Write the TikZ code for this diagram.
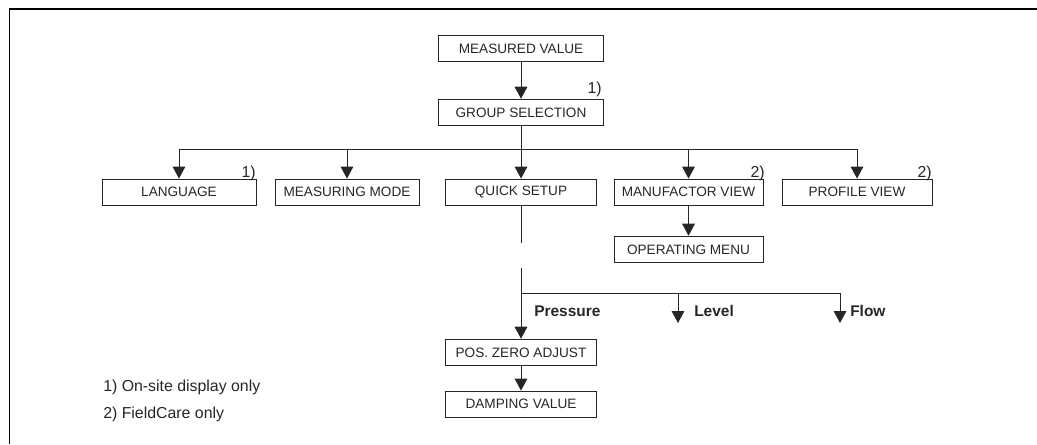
\documentclass[tikz,border=0pt]{standalone}
\usepackage{fontspec}
\setmainfont{Liberation Sans}
\usetikzlibrary{arrows.meta}
\begin{document}
\begin{tikzpicture}[x=0.75pt,y=-0.75pt,
  box/.style={draw=black!85, line width=0.65pt, minimum height=20pt, inner sep=0pt,
    font=\fontsize{10.2}{12}\selectfont, text=black!85},
  arr/.style={draw=black!85, line width=0.75pt, -{Triangle[width=9.5pt,length=9pt]}},
  ln/.style={draw=black!85, line width=0.75pt},
  note/.style={font=\fontsize{11.9}{14}\selectfont, text=black!85, inner sep=0pt},
  lbl/.style={font=\bfseries\fontsize{11.6}{13}\selectfont, text=black!85, inner sep=0pt, anchor=base west}]
\useasboundingbox (0,0) rectangle (1037,444);
\coordinate (fbl) at (9.5,444);
\coordinate (ftl) at (9.5,9);
\coordinate (ftr) at (1037,9);
\draw[line width=1.2pt] (fbl) -- (ftl) -- (ftr);

% boxes
\node[box, minimum width=123.75pt] (mv) at (521,48.5) {MEASURED VALUE};
\node[box, minimum width=123.75pt] (gs) at (521,112.5) {GROUP SELECTION};
\node[box, minimum width=115.5pt, minimum height=19.5pt] (lang) at (179,192) {LANGUAGE};
\node[box, minimum width=108pt, minimum height=19.5pt] (mm) at (347,192) {MEASURING MODE};
\node[box, minimum width=113.25pt, minimum height=19.5pt] (qs) at (521,192) {QUICK SETUP};
\node[box, minimum width=111.75pt, minimum height=19.5pt] (mf) at (688.5,192) {MANUFACTOR VIEW};
\node[box, minimum width=112.5pt, minimum height=19.5pt] (pv) at (857,192) {PROFILE VIEW};
\node[box, minimum width=111.75pt] (om) at (688.5,249.5) {OPERATING MENU};
\node[box, minimum width=113.25pt] (pz) at (521,352.5) {POS. ZERO ADJUST};
\node[box, minimum width=113.25pt, minimum height=19.5pt] (dv) at (521,404) {DAMPING VALUE};

% footnote marks
\node[note, anchor=base east] (n1) at (602,93) {1)};
\node[note, anchor=base east] (n2) at (256,177) {1)};
\node[note, anchor=base east] (n3) at (765,177) {2)};
\node[note, anchor=base east] (n4) at (932,177) {2)};

% legend
\node[note, anchor=base west] (leg1) at (103,391) {1) On-site display only};
\node[note, anchor=base west] (leg2) at (103,418) {2) FieldCare only};

% connectors top
\draw[arr] (mv) -- (gs);
\coordinate (b1) at (521,149);
\draw[ln] (gs) -- (b1);
\draw[ln] (lang.north |- b1) -- (pv.north |- b1);
\draw[arr] (lang.north |- b1) -- (lang);
\draw[arr] (mm.north |- b1) -- (mm);
\draw[arr] (b1) -- (qs);
\draw[arr] (mf.north |- b1) -- (mf);
\draw[arr] (pv.north |- b1) -- (pv);
\draw[arr] (mf) -- (om);

% quick setup branch
\coordinate (qsend) at (521,243);
\coordinate (qsres) at (521,268);
\coordinate (b2) at (521,293);
\coordinate (lvtop) at (678,293);
\coordinate (lvend) at (678,323);
\coordinate (fltop) at (840,293);
\coordinate (flend) at (840,323);
\draw[ln] (qs) -- (qsend);
\draw[ln] (qsres) -- (b2) -- (fltop);
\draw[arr] (b2) -- (pz);
\draw[arr] (lvtop) -- (lvend);
\draw[arr] (fltop) -- (flend);
\draw[arr] (pz) -- (dv);

\node[lbl] (plab) at (534,316) {Pressure};
\node[lbl] (llab) at (694,316) {Level};
\node[lbl] (flab) at (850,316) {Flow};
\end{tikzpicture}
\end{document}
